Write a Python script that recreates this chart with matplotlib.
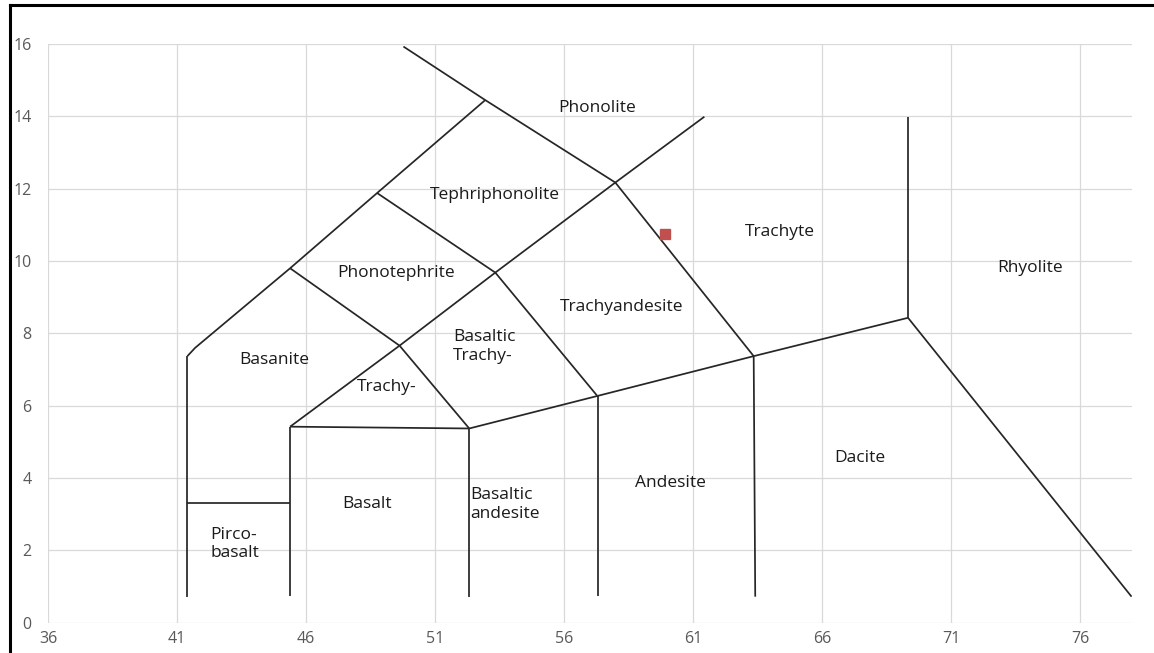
import matplotlib
matplotlib.use("Agg")
import matplotlib.pyplot as plt
from matplotlib.lines import Line2D
import numpy as np

plt.rcParams['font.family'] = ['Open Sans', 'DejaVu Sans']

# TAS field boundaries (SiO2 wt%, Na2O+K2O wt%)
upper_left_x = [41.4, 41.7, 45.38, 48.75, 52.94]
upper_left_y = [7.37, 7.6, 9.80, 11.88, 14.45]

phonolite_x = [49.77, 52.94, 57.98, 63.34]
phonolite_y = [15.93, 14.45, 12.17, 7.37]

phonotephrite_x = [45.38, 49.62, 52.32]
phonotephrite_y = [9.80, 7.66, 5.37]

trachy_x = [45.38, 49.62, 53.33, 57.98, 61.43]
trachy_y = [5.42, 7.66, 9.68, 12.17, 13.99]

tephri_x = [48.75, 53.33, 57.27]
tephri_y = [11.88, 9.68, 6.28]

alkaline_x = [52.32, 57.29, 63.34, 69.32]
alkaline_y = [5.37, 6.27, 7.37, 8.43]

basalt_top_x = [45.38, 52.32]
basalt_top_y = [5.42, 5.37]

rhyolite_x = [69.32, 77.98]
rhyolite_y = [8.43, 0.72]

trachyte_x = [69.32, 69.32]
trachyte_y = [13.98, 8.43]

picro_top_x = [41.4, 45.38]
picro_top_y = [3.30, 3.30]

# vertical dividers: (x top, y top, x bottom, y bottom)
verticals = [
    (41.4, 7.37, 41.4, 0.72),
    (45.38, 5.42, 45.38, 0.75),
    (52.32, 5.37, 52.32, 0.70),
    (57.29, 6.27, 57.29, 0.75),
    (63.34, 7.37, 63.4, 0.72),
]

boundaries = [
    (upper_left_x, upper_left_y),
    (phonolite_x, phonolite_y),
    (phonotephrite_x, phonotephrite_y),
    (trachy_x, trachy_y),
    (tephri_x, tephri_y),
    (alkaline_x, alkaline_y),
    (basalt_top_x, basalt_top_y),
    (rhyolite_x, rhyolite_y),
    (trachyte_x, trachyte_y),
    (picro_top_x, picro_top_y),
]

# field names: (text, x, y, horizontal alignment)
field_labels = [
    ("Phonolite", 57.27, 14.22, 'center'),
    ("Tephriphonolite", 53.33, 11.82, 'center'),
    ("Phonotephrite", 49.49, 9.68, 'center'),
    ("Basanite", 44.76, 7.26, 'center'),
    ("Trachy-", 49.13, 6.52, 'center'),
    ("Basaltic\nTrachy-", 51.69, 7.64, 'left'),
    ("Trachyandesite", 58.24, 8.74, 'center'),
    ("Trachyte", 64.37, 10.81, 'center'),
    ("Rhyolite", 74.06, 9.80, 'center'),
    ("Dacite", 67.47, 4.55, 'center'),
    ("Andesite", 60.10, 3.86, 'center'),
    ("Basaltic\nandesite", 52.36, 3.27, 'left'),
    ("Basalt", 48.35, 3.28, 'center'),
    ("Pirco-\nbasalt", 42.30, 2.18, 'left'),
]

sample_x = [59.89]
sample_y = [10.74]

x_ticks = [36, 41, 46, 51, 56, 61, 66, 71, 76]
y_ticks = [0, 2, 4, 6, 8, 10, 12, 14, 16]

fig = plt.figure(figsize=(11.54, 6.53), dpi=100)
ax = fig.add_axes([0.0416, 0.0464, 0.9394, 0.8862])

line_col = '#262626'
for bx, by in boundaries:
    ax.plot(bx, by, color=line_col, lw=1.25, solid_capstyle='butt')
for x0, y0, x1, y1 in verticals:
    ax.plot([x0, x1], [y0, y1], color=line_col, lw=1.25, solid_capstyle='butt')

for text, tx, ty, ha in field_labels:
    ax.text(tx, ty, text, ha=ha, va='center', fontsize=12.5,
            color='#1a1a1a', linespacing=1.2)

ax.plot(sample_x, sample_y, marker='s', markersize=7, color='#c0504d',
        linestyle='none')

ax.set_xlim(36, 78)
ax.set_ylim(0, 16)
ax.set_xticks(x_ticks)
ax.set_yticks(y_ticks)
ax.grid(True, color='#d9d9d9', lw=0.9)
ax.set_axisbelow(True)
for s in ax.spines.values():
    s.set_visible(False)
ax.tick_params(length=0, labelsize=11.5, labelcolor='#595959')
ax.tick_params(axis='y', pad=12)
ax.tick_params(axis='x', pad=6)

# outer frame
fig.add_artist(Line2D([10 / 1154, 10 / 1154], [0, 1 - 5 / 653],
                      transform=fig.transFigure, color='black', lw=2.2))
fig.add_artist(Line2D([10 / 1154, 1], [1 - 5 / 653, 1 - 5 / 653],
                      transform=fig.transFigure, color='black', lw=2.2))

fig.savefig('out.png', dpi=100)
